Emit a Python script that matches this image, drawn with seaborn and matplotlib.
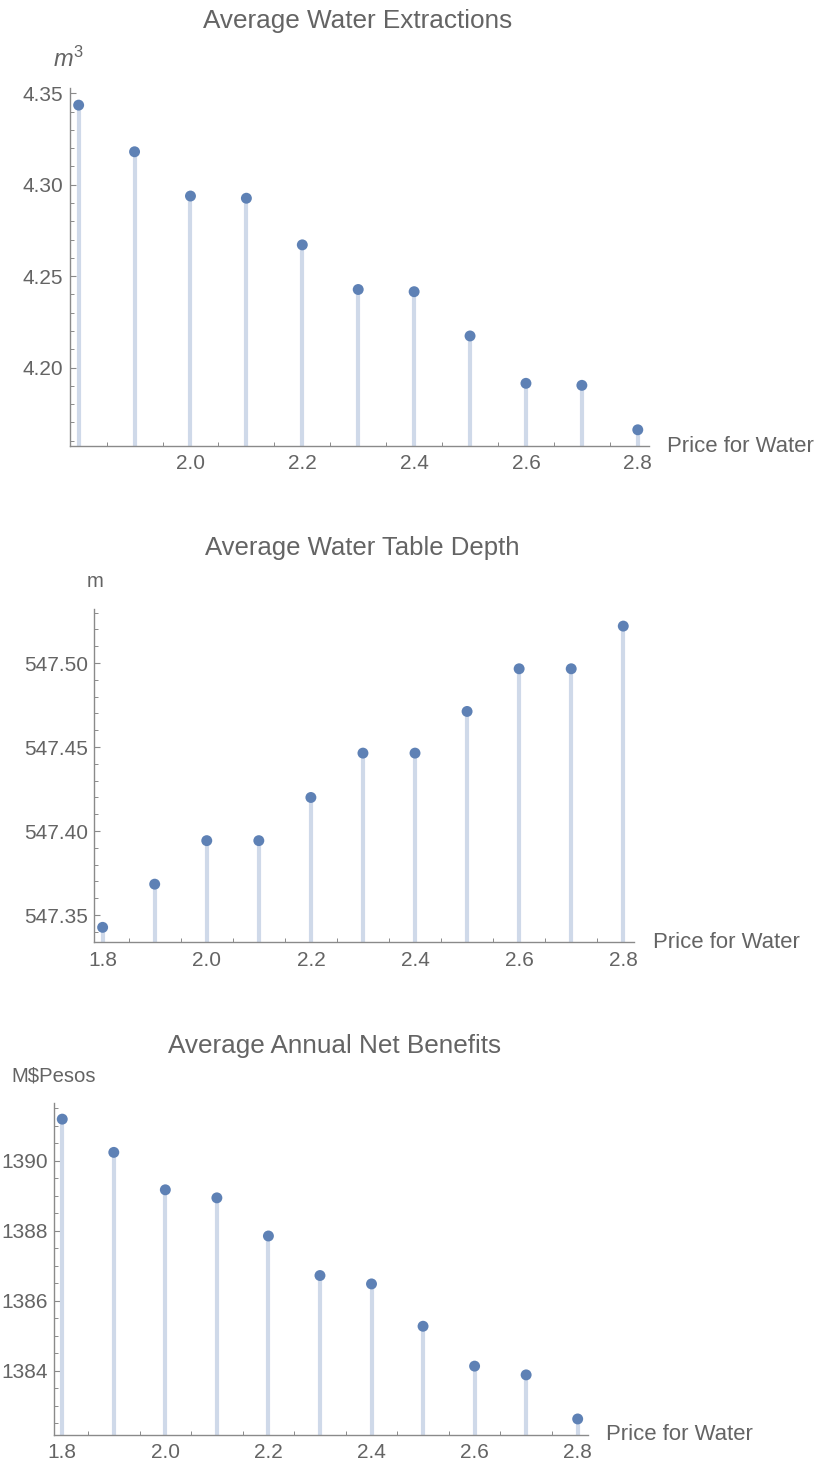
import matplotlib
matplotlib.use("Agg")
import matplotlib.pyplot as plt
import seaborn as sns
from matplotlib.ticker import MultipleLocator, FixedLocator, FixedFormatter

sns.set_style("white")
plt.rcParams['font.family'] = ['Liberation Sans', 'DejaVu Sans']
plt.rcParams['mathtext.fontset'] = 'custom'
plt.rcParams['mathtext.rm'] = 'Liberation Sans'
plt.rcParams['mathtext.it'] = 'Liberation Sans:italic'

# ---------------- data ----------------
price = [1.8, 1.9, 2.0, 2.1, 2.2, 2.3, 2.4, 2.5, 2.6, 2.7, 2.8]
extractions = [4.3435, 4.3180, 4.2938, 4.2926, 4.2671, 4.2427, 4.2415, 4.2173, 4.1914, 4.1903, 4.1660]
depth = [547.3427, 547.3684, 547.3943, 547.3943, 547.4200, 547.4464, 547.4464, 547.4712, 547.4966, 547.4966, 547.5220]
benefits = [1391.19, 1390.24, 1389.17, 1388.94, 1387.85, 1386.72, 1386.48, 1385.27, 1384.13, 1383.88, 1382.62]

titles = ["Average Water Extractions", "Average Water Table Depth", "Average Annual Net Benefits"]
y_units = [r"$m^{3}$", "m", "M$Pesos"]
x_label = "Price for Water"

x_ticks = [1.8, 2.0, 2.2, 2.4, 2.6, 2.8]
x_labels_top = ["", "2.0", "2.2", "2.4", "2.6", "2.8"]
x_labels = ["1.8", "2.0", "2.2", "2.4", "2.6", "2.8"]

y_ticks_1 = [4.20, 4.25, 4.30, 4.35]
y_labels_1 = ["4.20", "4.25", "4.30", "4.35"]
y_ticks_2 = [547.35, 547.40, 547.45, 547.50]
y_labels_2 = ["547.35", "547.40", "547.45", "547.50"]
y_ticks_3 = [1384, 1386, 1388, 1390]
y_labels_3 = ["1384", "1386", "1388", "1390"]

# ---------------- style ----------------
W, H = 820, 1463
DOT = "#5E81B5"
STEM = "#CFD9E9"
AXC = "#8a8a8a"
TXT = "#646464"

fig = plt.figure(figsize=(W / 100, H / 100), dpi=100)

def fx(px):
    return px / W

def fy(py):
    return 1 - py / H

panels = [
    dict(box=(69.7, 88.3, 649.3, 445.7), ylim=(4.1573, 4.3527), y=extractions,
         yt=y_ticks_1, yl=y_labels_1, yminor=0.01, xl=x_labels_top,
         title_xy=(358, 28.3), unit_xy=(68.5, 66.7), unit_fs=17, xlab_xy=(667.3, 452.3), title_fs=18.8),
    dict(box=(94.3, 609.3, 634.0, 942.3), ylim=(547.3338, 547.532), y=depth,
         yt=y_ticks_2, yl=y_labels_2, yminor=0.01, xl=x_labels,
         title_xy=(362, 555), unit_xy=(95, 586.7), unit_fs=14.6, xlab_xy=(653.3, 948.3), title_fs=18.5),
    dict(box=(54.0, 1102.7, 588.3, 1434.7), ylim=(1382.17, 1391.66), y=benefits,
         yt=y_ticks_3, yl=y_labels_3, yminor=0.5, xl=x_labels,
         title_xy=(335, 1052.7), unit_xy=(53.8, 1081.7), unit_fs=14.6, xlab_xy=(606, 1439.7), title_fs=18.8),
]

for i, p in enumerate(panels):
    l, t, r, b = p['box']
    ax = fig.add_axes([fx(l), fy(b), fx(r) - fx(l), fy(t) - fy(b)])
    ax.set_xlim(1.784, 2.8206)
    ax.set_ylim(*p['ylim'])
    ybot = p['ylim'][0]
    ax.vlines(price, ybot, p['y'], colors=STEM, linewidth=3.0, zorder=2)
    sns.scatterplot(x=price, y=p['y'], ax=ax, color=DOT, s=62, edgecolor='none',
                    linewidth=0, zorder=3, clip_on=False, legend=False)
    for s in ['top', 'right']:
        ax.spines[s].set_visible(False)
    for s in ['left', 'bottom']:
        ax.spines[s].set_color(AXC)
        ax.spines[s].set_linewidth(1.0)
    ax.xaxis.set_major_locator(FixedLocator(x_ticks))
    ax.xaxis.set_major_formatter(FixedFormatter(p['xl']))
    ax.xaxis.set_minor_locator(MultipleLocator(0.05))
    ax.yaxis.set_major_locator(FixedLocator(p['yt']))
    ax.yaxis.set_major_formatter(FixedFormatter(p['yl']))
    ax.yaxis.set_minor_locator(MultipleLocator(p['yminor']))
    ax.tick_params(which='both', bottom=True, left=True, top=False, right=False)
    ax.tick_params(which='major', direction='in', length=4.5, width=0.8, color=AXC,
                   labelcolor=TXT, labelsize=15)
    ax.tick_params(which='minor', direction='in', length=2.6, width=0.7, color=AXC)
    ax.tick_params(axis='x', which='major', pad=6)
    ax.tick_params(axis='y', which='major', pad=4.5)
    ax.set_xlabel("")
    ax.set_ylabel("")
    ax.grid(False)
    ax.patch.set_alpha(0)

    tx, ty = p['title_xy']
    fig.text(fx(tx), fy(ty), titles[i], ha='center', va='baseline',
             fontsize=p['title_fs'], color=TXT)
    ux, uy = p['unit_xy']
    fig.text(fx(ux), fy(uy), y_units[i], ha='center', va='baseline',
             fontsize=p['unit_fs'], color=TXT)
    lx, ly = p['xlab_xy']
    fig.text(fx(lx), fy(ly), x_label, ha='left', va='baseline',
             fontsize=15.9, color=TXT)

fig.savefig("out.png", dpi=100)
